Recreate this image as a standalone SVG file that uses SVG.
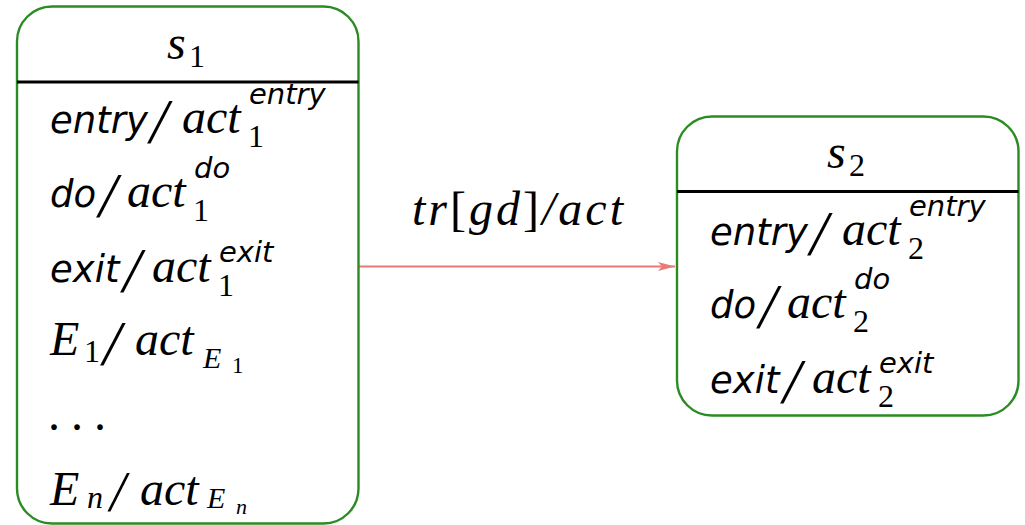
<svg xmlns="http://www.w3.org/2000/svg" width="1025" height="525" viewBox="0 0 1025 525">
<defs>
<style>
.box{fill:#fff;stroke:#2a8c22;stroke-width:2.4}
.sep{stroke:#000;stroke-width:3}
.m{font-family:"Liberation Serif","DejaVu Serif",serif;font-style:italic;fill:#000}
.r{font-family:"Liberation Serif","DejaVu Serif",serif;font-style:normal;fill:#000}
.w{font-family:"DejaVu Sans","Liberation Sans",sans-serif;font-style:oblique;fill:#000}
.big{font-size:48px}
.sl{font-size:64px}
.sub{font-size:32px}
.sup{font-size:29px}
.wb{font-size:37px}
.conn{stroke:#e87a7a;stroke-width:2;fill:none}
</style>
<marker id="arr" markerWidth="20" markerHeight="12" viewBox="0 0 20 12" refX="17" refY="6" orient="auto" markerUnits="userSpaceOnUse">
<path d="M0,1.5 L17,6 L0,10.5 L4,6 Z" fill="#e87a7a"/>
</marker>
</defs>

<g id="connectors">
<line class="conn" x1="359" y1="266.5" x2="675" y2="266.5" marker-end="url(#arr)"/>
<text class="m big" x="412" y="225" textLength="211" lengthAdjust="spacing">tr<tspan class="r">[</tspan>gd<tspan class="r">]</tspan>/act</text>
</g>

<g id="s1">
<rect class="box" x="17" y="6.5" width="341.5" height="517" rx="35" ry="35"/>
<line class="sep" x1="17" y1="82" x2="358.5" y2="82"/>
<text class="m big" x="167" y="59">s</text><text class="r sub" x="189" y="67">1</text>

<text class="w wb" x="50" y="133">entry</text>
<text class="m sl" x="150" y="143">/</text>
<text class="m big" x="182" y="133">act</text>
<text class="r sub" x="248" y="147">1</text>
<text class="w sup" x="249" y="104">entry</text>

<text class="w wb" x="50" y="207">do</text>
<text class="m sl" x="99" y="217">/</text>
<text class="m big" x="127" y="207">act</text>
<text class="r sub" x="193" y="221">1</text>
<text class="w sup" x="194" y="178">do</text>

<text class="w wb" x="50" y="282">exit</text>
<text class="m sl" x="123" y="292">/</text>
<text class="m big" x="152" y="282">act</text>
<text class="r sub" x="218" y="296">1</text>
<text class="w sup" x="219" y="262">exit</text>

<text class="m big" x="50" y="355">E</text>
<text class="r sub" x="84" y="362">1</text>
<text class="m sl" x="103" y="365">/</text>
<text class="m big" x="135" y="355">act</text>
<text class="m" font-size="30" x="203" y="368">E</text>
<text class="r" font-size="23" x="232" y="373">1</text>

<text class="r big" x="48 71 94" y="430">...</text>

<text class="m big" x="50" y="505">E</text>
<text class="m sub" x="87" y="508">n</text>
<text class="m" font-size="56" x="110" y="511">/</text>
<text class="m big" x="140" y="505">act</text>
<text class="m" font-size="30" x="207" y="508">E</text>
<text class="m" font-size="22" x="236" y="514">n</text>
</g>

<g id="s2">
<rect class="box" x="677" y="116.5" width="341.5" height="299" rx="35" ry="35"/>
<line class="sep" x1="677" y1="191.5" x2="1018.5" y2="191.5"/>
<text class="m big" x="827" y="168">s</text><text class="r sub" x="849" y="176">2</text>

<text class="w wb" x="710" y="245">entry</text>
<text class="m sl" x="810" y="255">/</text>
<text class="m big" x="842" y="245">act</text>
<text class="r sub" x="908" y="259">2</text>
<text class="w sup" x="909" y="216">entry</text>

<text class="w wb" x="710" y="318">do</text>
<text class="m sl" x="759" y="328">/</text>
<text class="m big" x="787" y="318">act</text>
<text class="r sub" x="853" y="332">2</text>
<text class="w sup" x="854" y="289">do</text>

<text class="w wb" x="710" y="393">exit</text>
<text class="m sl" x="783" y="403">/</text>
<text class="m big" x="812" y="393">act</text>
<text class="r sub" x="878" y="407">2</text>
<text class="w sup" x="879" y="373">exit</text>
</g>
</svg>
